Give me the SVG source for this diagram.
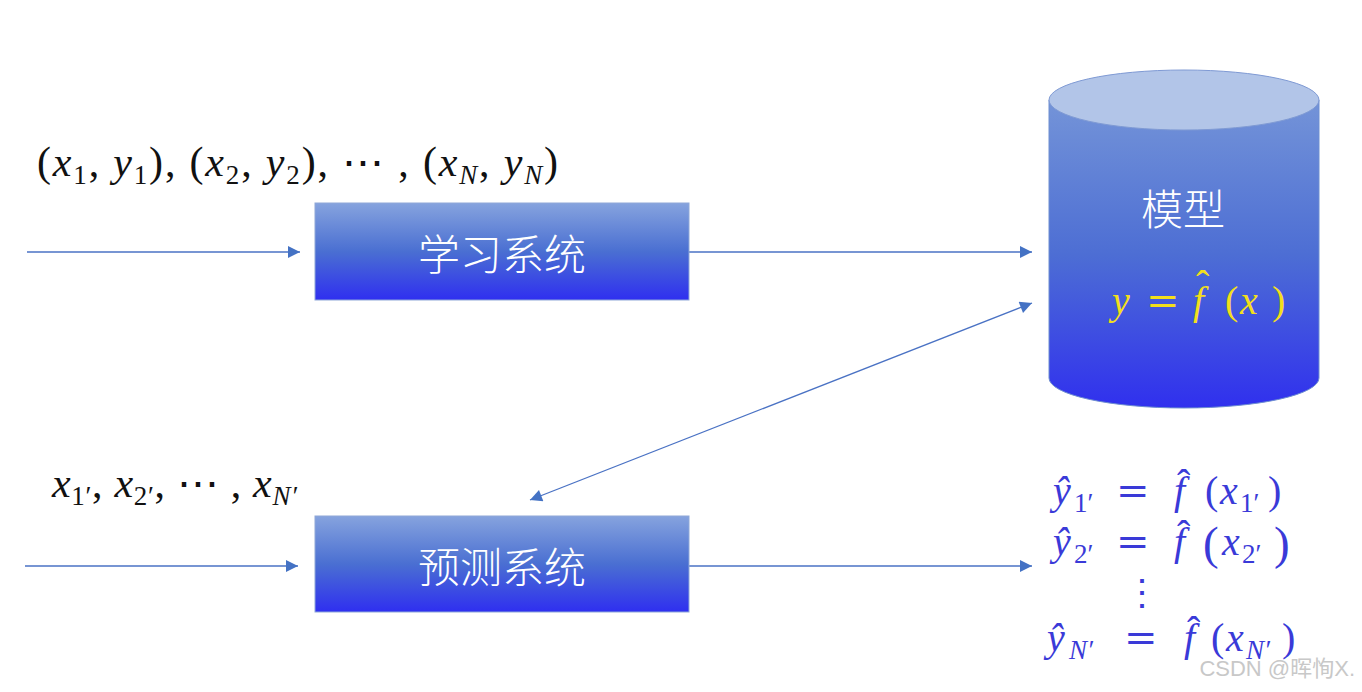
<svg xmlns="http://www.w3.org/2000/svg" width="1362" height="692" viewBox="0 0 1362 692">
<style>
.m{font-family:"Liberation Serif","DejaVu Serif",serif;font-size:40px;fill:#111}
.t{font-size:42px}
.i{font-style:italic}
.s{font-size:27px}
.eq{font-family:"DejaVu Serif",serif;font-size:40px}
.h{font-size:40px}
.box{stroke:#8fa8d8;stroke-width:1}
.lbl{font-family:"Noto Sans CJK SC","Noto Sans",sans-serif;font-size:42px;font-weight:300;fill:#fff;text-anchor:middle}
.ln{stroke:#4a72c4;stroke-width:1.3;fill:none}
.o{fill:#3a3ad8}
.y{fill:#f2df1c}
</style>
<defs>
<linearGradient id="gb" x1="0" y1="0" x2="0" y2="1">
<stop offset="0" stop-color="#86a3de"/>
<stop offset="0.5" stop-color="#4a6fd2"/>
<stop offset="1" stop-color="#2f2ff0"/>
</linearGradient>
<linearGradient id="gc" x1="0" y1="0" x2="0" y2="1">
<stop offset="0" stop-color="#7494d8"/>
<stop offset="0.5" stop-color="#4d6ed4"/>
<stop offset="1" stop-color="#3030ee"/>
</linearGradient>
<marker id="ah2" viewBox="0 0 10 10" refX="10" refY="5" markerWidth="14" markerHeight="12" markerUnits="userSpaceOnUse" orient="auto-start-reverse">
<path d="M0,0 L10,5 L0,10 z" fill="#4472c4"/>
</marker>
</defs>
<rect width="1362" height="692" fill="#fff"/>

<g id="connectors">
<line class="ln" x1="27" y1="252" x2="300" y2="252" marker-end="url(#ah2)"/>
<line class="ln" x1="689" y1="252" x2="1032" y2="252" marker-end="url(#ah2)"/>
<line class="ln" x1="25" y1="566" x2="298" y2="566" marker-end="url(#ah2)"/>
<line class="ln" x1="689" y1="566" x2="1032" y2="566" marker-end="url(#ah2)"/>
<line class="ln" x1="530" y1="500" x2="1032" y2="303" marker-start="url(#ah2)" marker-end="url(#ah2)"/>
</g>

<g id="learn">
<rect class="box" x="315" y="203" width="374" height="97" fill="url(#gb)"/>
<text class="lbl" x="502" y="270">学习系统</text>
</g>

<g id="predict">
<rect class="box" x="315" y="516" width="374" height="96" fill="url(#gb)"/>
<text class="lbl" x="502" y="583">预测系统</text>
</g>

<g id="model">
<path d="M1049,100 L1049,378 A135,30 0 0 0 1319,378 L1319,100 Z" fill="url(#gc)" stroke="#6f8fd0" stroke-width="1"/>
<ellipse cx="1184" cy="100" rx="135" ry="30" fill="#b2c5e8" stroke="#7f9ad4" stroke-width="1"/>
<text class="lbl" x="1183" y="225">模型</text>
<text class="m y"><tspan class="i" x="1112" y="314">y</tspan><tspan class="eq" x="1146" y="314">=</tspan><tspan class="i" x="1193" y="314">f</tspan><tspan class="h" x="1196" y="298">ˆ</tspan><tspan x="1225" y="314">(</tspan><tspan class="i" x="1240" y="314">x</tspan><tspan x="1272" y="314">)</tspan></text>
</g>

<g id="train-data">
<text class="m t" x="37" y="176" textLength="521" lengthAdjust="spacing">(<tspan class="i">x</tspan><tspan class="s" dy="8">1</tspan><tspan dy="-8">, </tspan><tspan class="i">y</tspan><tspan class="s" dy="8">1</tspan><tspan dy="-8">), (</tspan><tspan class="i">x</tspan><tspan class="s" dy="8">2</tspan><tspan dy="-8">, </tspan><tspan class="i">y</tspan><tspan class="s" dy="8">2</tspan><tspan dy="-8">), ⋯ , (</tspan><tspan class="i">x</tspan><tspan class="s i" dy="8">N</tspan><tspan dy="-8">, </tspan><tspan class="i">y</tspan><tspan class="s i" dy="8">N</tspan><tspan dy="-8">)</tspan></text>
</g>

<g id="test-data">
<text class="m t" x="52" y="497" textLength="245" lengthAdjust="spacing"><tspan class="i">x</tspan><tspan class="s" dy="8">1′</tspan><tspan dy="-8">, </tspan><tspan class="i">x</tspan><tspan class="s" dy="8">2′</tspan><tspan dy="-8">, ⋯ , </tspan><tspan class="i">x</tspan><tspan class="s i" dy="8">N′</tspan></text>
</g>

<g id="outputs">
<text class="m o"><tspan class="i" x="1053" y="504">ŷ</tspan><tspan class="s" x="1074" y="512">1′</tspan><tspan class="eq" x="1116" y="504">=</tspan><tspan class="i" x="1174" y="504">f</tspan><tspan class="h" x="1177" y="497">ˆ</tspan><tspan x="1205" y="504">(</tspan><tspan class="i" x="1220" y="504">x</tspan><tspan class="s" x="1240" y="512">1′</tspan><tspan x="1268" y="504">)</tspan></text>
<text class="m o"><tspan class="i" x="1053" y="555">ŷ</tspan><tspan class="s" x="1074" y="563">2′</tspan><tspan class="eq" x="1116" y="555">=</tspan><tspan class="i" x="1174" y="555">f</tspan><tspan class="h" x="1177" y="548">ˆ</tspan><tspan x="1203" y="559" style="font-size:47px">(</tspan><tspan class="i" x="1222" y="555">x</tspan><tspan class="s" x="1242" y="563">2′</tspan><tspan x="1274" y="559" style="font-size:47px">)</tspan></text>
<text class="m o" x="1142" y="605" text-anchor="middle" style="font-family:'DejaVu Serif',serif;font-size:36px">⋮</text>
<text class="m o"><tspan class="i" x="1047" y="651">ŷ</tspan><tspan class="s i" x="1069" y="659">N′</tspan><tspan class="eq" x="1124" y="651">=</tspan><tspan class="i" x="1184" y="651">f</tspan><tspan class="h" x="1187" y="644">ˆ</tspan><tspan x="1211" y="651">(</tspan><tspan class="i" x="1226" y="651">x</tspan><tspan class="s i" x="1246" y="659">N′</tspan><tspan x="1282" y="651">)</tspan></text>
</g>

<text x="1355" y="676" text-anchor="end" style="font-family:'Liberation Sans','Noto Sans CJK SC',sans-serif;font-size:22px;fill:#c8c8c8">CSDN @晖恂X.</text>
</svg>
